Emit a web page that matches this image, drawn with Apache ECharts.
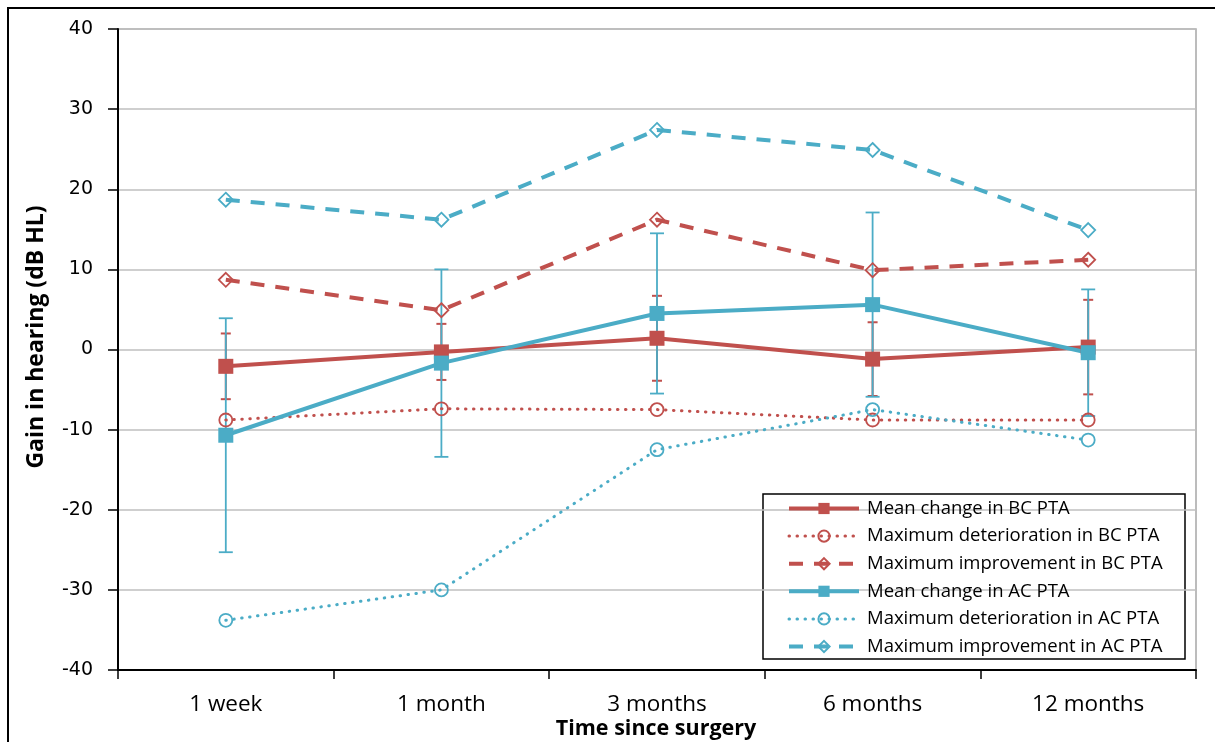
<!DOCTYPE html>
<html>
<head>
<meta charset="utf-8">
<script src="https://cdn.jsdelivr.net/npm/echarts@6/dist/echarts.min.js"></script>
<style>
html,body{margin:0;padding:0;background:#fff;}
#main{width:1215px;height:742px;}
</style>
</head>
<body>
<div id="main"></div>
<script>
const categories = ['1 week', '1 month', '3 months', '6 months', '12 months'];
const yTicks = [-40, -30, -20, -10, 0, 10, 20, 30, 40];

const bcMean = [-2.1, -0.3, 1.4, -1.2, 0.3];
const bcMeanErr = [4.1, 3.5, 5.3, 4.6, 5.9];
const bcMaxDet = [-8.8, -7.4, -7.5, -8.8, -8.8];
const bcMaxImp = [8.7, 4.9, 16.2, 9.9, 11.2];

const acMean = [-10.7, -1.7, 4.5, 5.6, -0.4];
const acMeanErr = [14.6, 11.7, 10.0, 11.5, 7.9];
const acMaxDet = [-33.8, -30.0, -12.5, -7.5, -11.3];
const acMaxImp = [18.7, 16.2, 27.4, 24.9, 14.9];

const RED = '#C0504D';
const BLUE = '#4BACC6';
const FONT = 'Open Sans';

function errData(mean, err) {
  return mean.map((m, i) => [i, +(m - err[i]).toFixed(2), +(m + err[i]).toFixed(2)]);
}
function errSeries(name, mean, err, color, capHalf, width) {
  return {
    type: 'custom',
    name: name,
    data: errData(mean, err),
    encode: { x: 0, y: [1, 2] },
    z: 3,
    silent: true,
    renderItem: function (params, api) {
      const x = api.value(0);
      const lo = api.coord([x, api.value(1)]);
      const hi = api.coord([x, api.value(2)]);
      const style = { stroke: color, lineWidth: width };
      return {
        type: 'group',
        children: [
          { type: 'line', shape: { x1: lo[0], y1: lo[1], x2: hi[0], y2: hi[1] }, style: style },
          { type: 'line', shape: { x1: lo[0] - capHalf, y1: lo[1], x2: lo[0] + capHalf, y2: lo[1] }, style: style },
          { type: 'line', shape: { x1: hi[0] - capHalf, y1: hi[1], x2: hi[0] + capHalf, y2: hi[1] }, style: style }
        ]
      };
    }
  };
}

const names = [
  'Mean change in BC PTA',
  'Maximum deterioration in BC PTA',
  'Maximum improvement in BC PTA',
  'Mean change in AC PTA',
  'Maximum deterioration in AC PTA',
  'Maximum improvement in AC PTA'
];
const kinds = ['mean', 'det', 'imp', 'mean', 'det', 'imp'];

function lineStyleFor(color, kind) {
  if (kind === 'mean') return { color: color, width: 4 };
  if (kind === 'det') return { color: color, width: 3, type: [0.5, 7.5], cap: 'round' };
  return { color: color, width: 4, type: [14, 11] };
}

function lineSeries(name, data, color, kind) {
  const s = { type: 'line', name: name, data: data, z: 4, animation: false };
  s.lineStyle = lineStyleFor(color, kind);
  if (kind === 'mean') {
    s.symbol = 'rect'; s.symbolSize = 15;
    s.itemStyle = { color: color };
    s.z = 5;
  } else if (kind === 'det') {
    s.symbol = 'circle'; s.symbolSize = 13;
    s.itemStyle = { color: 'rgba(255,255,255,0)', borderColor: color, borderWidth: 1.8 };
  } else {
    s.symbol = 'diamond'; s.symbolSize = 14;
    s.itemStyle = { color: 'rgba(255,255,255,0)', borderColor: color, borderWidth: 1.8 };
  }
  return s;
}

const chart = echarts.init(document.getElementById('main'), null, { renderer: 'canvas' });
chart.setOption({
  animation: false,
  backgroundColor: '#fff',
  grid: { left: 118, right: 19, top: 29, bottom: 72, show: true, borderColor: '#A6A6A6', borderWidth: 1.5, backgroundColor: 'transparent' },
  xAxis: {
    type: 'category',
    data: categories,
    boundaryGap: true,
    axisLine: { onZero: false, lineStyle: { color: '#000', width: 2 } },
    axisTick: { show: true, length: 9, alignWithLabel: false, lineStyle: { color: '#000', width: 1.5 } },
    axisLabel: { color: '#000', fontFamily: FONT, fontSize: 22.5, margin: 23 },
    splitLine: { show: false }
  },
  yAxis: {
    type: 'value',
    min: -40, max: 40, interval: 10,
    axisLine: { show: true, lineStyle: { color: '#000', width: 2 } },
    axisTick: { show: true, length: 10, inside: false, lineStyle: { color: '#000', width: 1.5 } },
    axisLabel: { color: '#000', fontFamily: 'DejaVu Sans', fontSize: 19, margin: 25,
      formatter: v => yTicks.includes(v) ? String(v) : '' },
    splitLine: { show: true, lineStyle: { color: '#BFBFBF', width: 1.5 } }
  },
  legend: {
    data: names.map((n, i) => ({ name: n, lineStyle: lineStyleFor(i < 3 ? RED : BLUE, kinds[i]) })),
    orient: 'vertical',
    left: 787, top: 499,
    itemWidth: 70, itemHeight: 14,
    itemGap: 8.6,
    padding: 0,
    textStyle: { color: '#000', fontFamily: FONT, fontSize: 18.5, padding: [0, 0, 0, 3] },
    selectedMode: false
  },
  graphic: [
    { type: 'rect', shape: { x: 763, y: 494, width: 422, height: 165 }, style: { fill: '#fff', stroke: '#000', lineWidth: 1.5 }, z: 0, zlevel: 0 },
    { type: 'rect', shape: { x: 8, y: 8, width: 1220, height: 750 }, style: { fill: 'none', stroke: '#000', lineWidth: 2 }, silent: true },
    { type: 'text', x: 36, y: 337, rotation: Math.PI / 2,
      style: { text: 'Gain in hearing (dB HL)', fill: '#000', font: 'bold 23px "Open Sans"', align: 'center', verticalAlign: 'middle' } },
    { type: 'text', x: 656, y: 729,
      style: { text: 'Time since surgery', fill: '#000', font: 'bold 21.5px "Open Sans"', align: 'center', verticalAlign: 'middle' } }
  ],
  series: [
    errSeries('err BC', bcMean, bcMeanErr, RED, 5, 2),
    errSeries('err AC', acMean, acMeanErr, BLUE, 7, 1.8),
    lineSeries(names[0], bcMean, RED, 'mean'),
    lineSeries(names[1], bcMaxDet, RED, 'det'),
    lineSeries(names[2], bcMaxImp, RED, 'imp'),
    lineSeries(names[3], acMean, BLUE, 'mean'),
    lineSeries(names[4], acMaxDet, BLUE, 'det'),
    lineSeries(names[5], acMaxImp, BLUE, 'imp')
  ]
});
</script>
</body>
</html>
